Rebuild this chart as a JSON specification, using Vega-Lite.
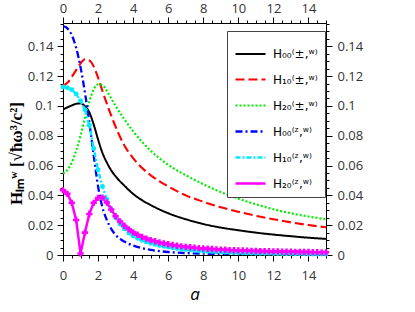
{
"$schema": "https://vega.github.io/schema/vega-lite/v6.json",
"width": 263, "height": 232,
"autosize": "none",
"padding": {"left": 63, "top": 23, "right": 89, "bottom": 57},
"background": "white",
"config": {
  "view": {"stroke": null},
  "axis": {"grid": false, "labelFont": "Open Sans", "labelFontSize": 13, "labelColor": "#333", "domainColor": "black", "tickColor": "black", "labelFlush": false, "labelOverlap": false, "labelBound": false}
},
"data": {"values": [
{"a":0,"s":"H00pm","v":0.0976},{"a":0.25,"s":"H00pm","v":0.0990},{"a":0.5,"s":"H00pm","v":0.1003},{"a":0.75,"s":"H00pm","v":0.1014},{"a":1,"s":"H00pm","v":0.1017},{"a":1.25,"s":"H00pm","v":0.0998},{"a":1.5,"s":"H00pm","v":0.0958},{"a":1.75,"s":"H00pm","v":0.0875},{"a":2,"s":"H00pm","v":0.0775},{"a":2.25,"s":"H00pm","v":0.0685},{"a":2.5,"s":"H00pm","v":0.0620},{"a":2.75,"s":"H00pm","v":0.0568},{"a":3,"s":"H00pm","v":0.0528},{"a":3.5,"s":"H00pm","v":0.0465},{"a":4,"s":"H00pm","v":0.0410},{"a":4.5,"s":"H00pm","v":0.0368},{"a":5,"s":"H00pm","v":0.0335},{"a":6,"s":"H00pm","v":0.0280},{"a":7,"s":"H00pm","v":0.0240},{"a":8,"s":"H00pm","v":0.0208},{"a":9,"s":"H00pm","v":0.0184},{"a":10,"s":"H00pm","v":0.0166},{"a":11,"s":"H00pm","v":0.0150},{"a":12,"s":"H00pm","v":0.0137},{"a":13,"s":"H00pm","v":0.0126},{"a":14,"s":"H00pm","v":0.0116},{"a":15,"s":"H00pm","v":0.0108},
{"a":0,"s":"H10pm","v":0.1135},{"a":0.25,"s":"H10pm","v":0.1155},{"a":0.5,"s":"H10pm","v":0.1195},{"a":0.75,"s":"H10pm","v":0.1240},{"a":1,"s":"H10pm","v":0.1285},{"a":1.25,"s":"H10pm","v":0.1313},{"a":1.5,"s":"H10pm","v":0.1305},{"a":1.75,"s":"H10pm","v":0.1265},{"a":2,"s":"H10pm","v":0.1190},{"a":2.25,"s":"H10pm","v":0.1100},{"a":2.5,"s":"H10pm","v":0.1015},{"a":2.75,"s":"H10pm","v":0.0935},{"a":3,"s":"H10pm","v":0.0860},{"a":3.5,"s":"H10pm","v":0.0735},{"a":4,"s":"H10pm","v":0.0650},{"a":4.5,"s":"H10pm","v":0.0585},{"a":5,"s":"H10pm","v":0.0535},{"a":6,"s":"H10pm","v":0.0460},{"a":7,"s":"H10pm","v":0.0400},{"a":8,"s":"H10pm","v":0.0357},{"a":9,"s":"H10pm","v":0.0320},{"a":10,"s":"H10pm","v":0.0290},{"a":11,"s":"H10pm","v":0.0263},{"a":12,"s":"H10pm","v":0.0240},{"a":13,"s":"H10pm","v":0.0219},{"a":14,"s":"H10pm","v":0.0201},{"a":15,"s":"H10pm","v":0.0186},
{"a":0,"s":"H20pm","v":0.0547},{"a":0.25,"s":"H20pm","v":0.0570},{"a":0.5,"s":"H20pm","v":0.0620},{"a":0.75,"s":"H20pm","v":0.0700},{"a":1,"s":"H20pm","v":0.0800},{"a":1.25,"s":"H20pm","v":0.0920},{"a":1.5,"s":"H20pm","v":0.1030},{"a":1.75,"s":"H20pm","v":0.1110},{"a":2,"s":"H20pm","v":0.1145},{"a":2.25,"s":"H20pm","v":0.1140},{"a":2.5,"s":"H20pm","v":0.1100},{"a":2.75,"s":"H20pm","v":0.1050},{"a":3,"s":"H20pm","v":0.1000},{"a":3.5,"s":"H20pm","v":0.0910},{"a":4,"s":"H20pm","v":0.0830},{"a":4.5,"s":"H20pm","v":0.0760},{"a":5,"s":"H20pm","v":0.0700},{"a":6,"s":"H20pm","v":0.0605},{"a":7,"s":"H20pm","v":0.0535},{"a":8,"s":"H20pm","v":0.0475},{"a":9,"s":"H20pm","v":0.0422},{"a":10,"s":"H20pm","v":0.0378},{"a":11,"s":"H20pm","v":0.0340},{"a":12,"s":"H20pm","v":0.0307},{"a":13,"s":"H20pm","v":0.0280},{"a":14,"s":"H20pm","v":0.0258},{"a":15,"s":"H20pm","v":0.0240},
{"a":0,"s":"H00zw","v":0.1535},{"a":0.25,"s":"H00zw","v":0.1520},{"a":0.5,"s":"H00zw","v":0.1475},{"a":0.75,"s":"H00zw","v":0.1390},{"a":1,"s":"H00zw","v":0.1260},{"a":1.25,"s":"H00zw","v":0.1090},{"a":1.5,"s":"H00zw","v":0.0890},{"a":1.75,"s":"H00zw","v":0.0670},{"a":2,"s":"H00zw","v":0.0460},{"a":2.25,"s":"H00zw","v":0.0320},{"a":2.5,"s":"H00zw","v":0.0235},{"a":2.75,"s":"H00zw","v":0.0175},{"a":3,"s":"H00zw","v":0.0135},{"a":3.5,"s":"H00zw","v":0.0090},{"a":4,"s":"H00zw","v":0.0063},{"a":4.5,"s":"H00zw","v":0.0046},{"a":5,"s":"H00zw","v":0.0034},{"a":6,"s":"H00zw","v":0.0020},{"a":7,"s":"H00zw","v":0.0013},{"a":8,"s":"H00zw","v":0.0009},{"a":9,"s":"H00zw","v":0.0006},{"a":10,"s":"H00zw","v":0.0004},{"a":11,"s":"H00zw","v":0.0003},{"a":12,"s":"H00zw","v":0.0002},{"a":13,"s":"H00zw","v":0.0002},{"a":14,"s":"H00zw","v":0.0001},{"a":15,"s":"H00zw","v":0.0001},
{"a":0,"s":"H10zw","v":0.1127},{"a":0.25,"s":"H10zw","v":0.1122},{"a":0.5,"s":"H10zw","v":0.1108},{"a":0.75,"s":"H10zw","v":0.1080},{"a":1,"s":"H10zw","v":0.1035},{"a":1.25,"s":"H10zw","v":0.0975},{"a":1.5,"s":"H10zw","v":0.0870},{"a":1.75,"s":"H10zw","v":0.0715},{"a":2,"s":"H10zw","v":0.0570},{"a":2.25,"s":"H10zw","v":0.0460},{"a":2.5,"s":"H10zw","v":0.0375},{"a":2.75,"s":"H10zw","v":0.0305},{"a":3,"s":"H10zw","v":0.0250},{"a":3.25,"s":"H10zw","v":0.0208},{"a":3.5,"s":"H10zw","v":0.0175},{"a":3.75,"s":"H10zw","v":0.0148},{"a":4,"s":"H10zw","v":0.0127},{"a":4.25,"s":"H10zw","v":0.0112},{"a":4.5,"s":"H10zw","v":0.0099},{"a":4.75,"s":"H10zw","v":0.0088},{"a":5,"s":"H10zw","v":0.0079},{"a":5.25,"s":"H10zw","v":0.0071},{"a":5.5,"s":"H10zw","v":0.0064},{"a":5.75,"s":"H10zw","v":0.0058},{"a":6,"s":"H10zw","v":0.0053},{"a":6.25,"s":"H10zw","v":0.0048},{"a":6.5,"s":"H10zw","v":0.0044},{"a":6.75,"s":"H10zw","v":0.0040},{"a":7,"s":"H10zw","v":0.0037},{"a":7.25,"s":"H10zw","v":0.0034},{"a":7.5,"s":"H10zw","v":0.0031},{"a":7.75,"s":"H10zw","v":0.0029},{"a":8,"s":"H10zw","v":0.0027},{"a":8.25,"s":"H10zw","v":0.0025},{"a":8.5,"s":"H10zw","v":0.0023},{"a":8.75,"s":"H10zw","v":0.0021},{"a":9,"s":"H10zw","v":0.0020},{"a":9.25,"s":"H10zw","v":0.0019},{"a":9.5,"s":"H10zw","v":0.0017},{"a":9.75,"s":"H10zw","v":0.0016},{"a":10,"s":"H10zw","v":0.0015},{"a":10.25,"s":"H10zw","v":0.0014},{"a":10.5,"s":"H10zw","v":0.0014},{"a":10.75,"s":"H10zw","v":0.0013},{"a":11,"s":"H10zw","v":0.0012},{"a":11.25,"s":"H10zw","v":0.0012},{"a":11.5,"s":"H10zw","v":0.0011},{"a":11.75,"s":"H10zw","v":0.0011},{"a":12,"s":"H10zw","v":0.0010},{"a":12.25,"s":"H10zw","v":0.0010},{"a":12.5,"s":"H10zw","v":0.0009},{"a":12.75,"s":"H10zw","v":0.0009},{"a":13,"s":"H10zw","v":0.0009},{"a":13.25,"s":"H10zw","v":0.0008},{"a":13.5,"s":"H10zw","v":0.0008},{"a":13.75,"s":"H10zw","v":0.0008},{"a":14,"s":"H10zw","v":0.0007},{"a":14.25,"s":"H10zw","v":0.0007},{"a":14.5,"s":"H10zw","v":0.0007},{"a":14.75,"s":"H10zw","v":0.0007},{"a":15,"s":"H10zw","v":0.0006},
{"a":0,"s":"H20zw","v":0.0435},{"a":0.25,"s":"H20zw","v":0.0410},{"a":0.5,"s":"H20zw","v":0.0350},{"a":0.75,"s":"H20zw","v":0.0235},{"a":1,"s":"H20zw","v":0.0010},{"a":1.25,"s":"H20zw","v":0.0150},{"a":1.5,"s":"H20zw","v":0.0275},{"a":1.75,"s":"H20zw","v":0.0350},{"a":2,"s":"H20zw","v":0.0383},{"a":2.25,"s":"H20zw","v":0.0385},{"a":2.5,"s":"H20zw","v":0.0352},{"a":2.75,"s":"H20zw","v":0.0305},{"a":3,"s":"H20zw","v":0.0260},{"a":3.25,"s":"H20zw","v":0.0225},{"a":3.5,"s":"H20zw","v":0.0196},{"a":3.75,"s":"H20zw","v":0.0172},{"a":4,"s":"H20zw","v":0.0152},{"a":4.25,"s":"H20zw","v":0.0136},{"a":4.5,"s":"H20zw","v":0.0122},{"a":4.75,"s":"H20zw","v":0.0110},{"a":5,"s":"H20zw","v":0.0100},{"a":5.25,"s":"H20zw","v":0.0092},{"a":5.5,"s":"H20zw","v":0.0084},{"a":5.75,"s":"H20zw","v":0.0078},{"a":6,"s":"H20zw","v":0.0072},{"a":6.25,"s":"H20zw","v":0.0067},{"a":6.5,"s":"H20zw","v":0.0062},{"a":6.75,"s":"H20zw","v":0.0058},{"a":7,"s":"H20zw","v":0.0055},{"a":7.25,"s":"H20zw","v":0.0052},{"a":7.5,"s":"H20zw","v":0.0049},{"a":7.75,"s":"H20zw","v":0.0046},{"a":8,"s":"H20zw","v":0.0044},{"a":8.25,"s":"H20zw","v":0.0042},{"a":8.5,"s":"H20zw","v":0.0040},{"a":8.75,"s":"H20zw","v":0.0038},{"a":9,"s":"H20zw","v":0.0036},{"a":9.25,"s":"H20zw","v":0.0035},{"a":9.5,"s":"H20zw","v":0.0033},{"a":9.75,"s":"H20zw","v":0.0032},{"a":10,"s":"H20zw","v":0.0031},{"a":10.25,"s":"H20zw","v":0.0030},{"a":10.5,"s":"H20zw","v":0.0029},{"a":10.75,"s":"H20zw","v":0.0028},{"a":11,"s":"H20zw","v":0.0027},{"a":11.25,"s":"H20zw","v":0.0026},{"a":11.5,"s":"H20zw","v":0.0026},{"a":11.75,"s":"H20zw","v":0.0025},{"a":12,"s":"H20zw","v":0.0024},{"a":12.25,"s":"H20zw","v":0.0024},{"a":12.5,"s":"H20zw","v":0.0023},{"a":12.75,"s":"H20zw","v":0.0022},{"a":13,"s":"H20zw","v":0.0022},{"a":13.25,"s":"H20zw","v":0.0021},{"a":13.5,"s":"H20zw","v":0.0021},{"a":13.75,"s":"H20zw","v":0.0020},{"a":14,"s":"H20zw","v":0.0020},{"a":14.25,"s":"H20zw","v":0.0019},{"a":14.5,"s":"H20zw","v":0.0019},{"a":14.75,"s":"H20zw","v":0.0018},{"a":15,"s":"H20zw","v":0.0018}
]},
"layer": [
  {
    "transform": [{"filter": "datum.s=='H00pm'||datum.s=='H10pm'||datum.s=='H20pm'||datum.s=='H00zw'"}],
    "mark": {"type": "line", "interpolate": "monotone", "clip": true},
    "encoding": {
      "x": {"field": "a", "type": "quantitative", "scale": {"domain": [0, 15], "nice": false},
        "axis": {"orient": "bottom", "values": [0,0.5,1,1.5,2,2.5,3,3.5,4,4.5,5,5.5,6,6.5,7,7.5,8,8.5,9,9.5,10,10.5,11,11.5,12,12.5,13,13.5,14,14.5,15],
          "labelExpr": "datum.value % 2 === 0 ? format(datum.value, 'd') : ''",
          "tickSize": {"condition": {"test": "datum.value % 2 === 0", "value": 6}, "value": 3},
          "labelPadding": 8,
          "title": "a", "titleFont": "Open Sans", "titleFontStyle": "italic", "titleFontWeight": "normal", "titleFontSize": 17, "titleColor": "black", "titleY": 44, "titleBaseline": "alphabetic"}},
      "y": {"field": "v", "type": "quantitative", "scale": {"domain": [0, 0.1556], "nice": false},
        "axis": {"orient": "left", "values": [0,0.005,0.01,0.015,0.02,0.025,0.03,0.035,0.04,0.045,0.05,0.055,0.06,0.065,0.07,0.075,0.08,0.085,0.09,0.095,0.1,0.105,0.11,0.115,0.12,0.125,0.13,0.135,0.14,0.145,0.15,0.155],
          "labelExpr": "abs(datum.value*50-round(datum.value*50))<0.01 ? format(datum.value, '.2~f') : ''",
          "tickSize": {"condition": {"test": "abs(datum.value*50-round(datum.value*50))<0.01", "value": 6}, "value": 3},
          "labelPadding": 4,
          "title": "Hₗₘʷ [√ħω³/c²]", "titleFont": "Liberation Serif", "titleFontWeight": "bold", "titleFontSize": 17, "titleColor": "black",
          "titleX": -38, "titleY": 130, "titleBaseline": "bottom", "titleAlign": "center", "titleAngle": 270}},
      "color": {"field": "s", "type": "nominal", "scale": {"domain": ["H00pm","H10pm","H20pm","H00zw","H10zw","H20zw"], "range": ["#000000","#ff0000","#00ee00","#0000ff","#00eaff","#ff00ff"]},
        "legend": {"orient": "none", "legendX": 164, "legendY": 8, "title": null, "symbolType": "stroke", "symbolSize": 900, "labelFont": "DejaVu Sans", "labelFontSize": 12, "labelColor": "black", "strokeColor": "#444", "fillColor": "white", "padding": 7, "rowPadding": 3, "labelOffset": 6,
          "labelExpr": "datum.value=='H00pm'?'H₀₀⁽±,ʷ⁾':datum.value=='H10pm'?'H₁₀⁽±,ʷ⁾':datum.value=='H20pm'?'H₂₀⁽±,ʷ⁾':datum.value=='H00zw'?'H₀₀⁽ᶻ,ʷ⁾':datum.value=='H10zw'?'H₁₀⁽ᶻ,ʷ⁾':'H₂₀⁽ᶻ,ʷ⁾'"}},
      "strokeDash": {"field": "s", "type": "nominal", "scale": {"domain": ["H00pm","H10pm","H20pm","H00zw","H10zw","H20zw"], "range": [[1,0],[9,4],[2,2],[7,3,2,3],[5,2,2,2],[1,0]]},
        "legend": {"orient": "none", "legendX": 164, "legendY": 8, "title": null, "symbolType": "stroke", "symbolSize": 900, "labelFont": "DejaVu Sans", "labelFontSize": 12, "labelColor": "black", "strokeColor": "#444", "fillColor": "white", "padding": 7, "rowPadding": 3, "labelOffset": 6,
          "labelExpr": "datum.value=='H00pm'?'H₀₀⁽±,ʷ⁾':datum.value=='H10pm'?'H₁₀⁽±,ʷ⁾':datum.value=='H20pm'?'H₂₀⁽±,ʷ⁾':datum.value=='H00zw'?'H₀₀⁽ᶻ,ʷ⁾':datum.value=='H10zw'?'H₁₀⁽ᶻ,ʷ⁾':'H₂₀⁽ᶻ,ʷ⁾'"}},
      "strokeWidth": {"field": "s", "type": "nominal", "scale": {"domain": ["H00pm","H10pm","H20pm","H00zw","H10zw","H20zw"], "range": [2,2.5,1.5,2.5,1.5,3]},
        "legend": {"orient": "none", "legendX": 164, "legendY": 8, "title": null, "symbolType": "stroke", "symbolSize": 900, "labelFont": "DejaVu Sans", "labelFontSize": 12, "labelColor": "black", "strokeColor": "#444", "fillColor": "white", "padding": 7, "rowPadding": 3, "labelOffset": 6,
          "labelExpr": "datum.value=='H00pm'?'H₀₀⁽±,ʷ⁾':datum.value=='H10pm'?'H₁₀⁽±,ʷ⁾':datum.value=='H20pm'?'H₂₀⁽±,ʷ⁾':datum.value=='H00zw'?'H₀₀⁽ᶻ,ʷ⁾':datum.value=='H10zw'?'H₁₀⁽ᶻ,ʷ⁾':'H₂₀⁽ᶻ,ʷ⁾'"}}
    }
  },
  {
    "transform": [{"filter": "datum.s=='H10zw'||datum.s=='H20zw'"}],
    "mark": {"type": "line", "interpolate": "linear", "clip": true},
    "encoding": {
      "x": {"field": "a", "type": "quantitative", "scale": {"domain": [0, 15], "nice": false},
        "axis": {"orient": "top", "values": [0,0.5,1,1.5,2,2.5,3,3.5,4,4.5,5,5.5,6,6.5,7,7.5,8,8.5,9,9.5,10,10.5,11,11.5,12,12.5,13,13.5,14,14.5,15],
          "labelExpr": "datum.value % 2 === 0 ? format(datum.value, 'd') : ''",
          "tickSize": {"condition": {"test": "datum.value % 2 === 0", "value": 6}, "value": 3},
          "labelPadding": 2, "title": null}},
      "y": {"field": "v", "type": "quantitative", "scale": {"domain": [0, 0.1556], "nice": false},
        "axis": {"orient": "right", "values": [0,0.005,0.01,0.015,0.02,0.025,0.03,0.035,0.04,0.045,0.05,0.055,0.06,0.065,0.07,0.075,0.08,0.085,0.09,0.095,0.1,0.105,0.11,0.115,0.12,0.125,0.13,0.135,0.14,0.145,0.15,0.155],
          "labelExpr": "abs(datum.value*50-round(datum.value*50))<0.01 ? format(datum.value, '.2~f') : ''",
          "tickSize": {"condition": {"test": "abs(datum.value*50-round(datum.value*50))<0.01", "value": 6}, "value": 3},
          "labelPadding": 5, "title": null}},
      "color": {"field": "s", "type": "nominal"},
      "strokeDash": {"field": "s", "type": "nominal"},
      "strokeWidth": {"field": "s", "type": "nominal"}
    }
  },
  {
    "transform": [{"filter": "datum.s=='H10zw'"}],
    "mark": {"type": "point", "shape": "circle", "filled": true, "size": 24, "color": "#00eaff", "opacity": 1},
    "encoding": {
      "x": {"field": "a", "type": "quantitative", "axis": null},
      "y": {"field": "v", "type": "quantitative", "axis": null}
    }
  },
  {
    "transform": [{"filter": "datum.s=='H20zw'"}],
    "mark": {"type": "point", "shape": "cross", "filled": true, "size": 40, "color": "#ff00ff", "opacity": 1},
    "encoding": {
      "x": {"field": "a", "type": "quantitative", "axis": null},
      "y": {"field": "v", "type": "quantitative", "axis": null}
    }
  }
],
"resolve": {"axis": {"x": "independent", "y": "independent"}}
}
